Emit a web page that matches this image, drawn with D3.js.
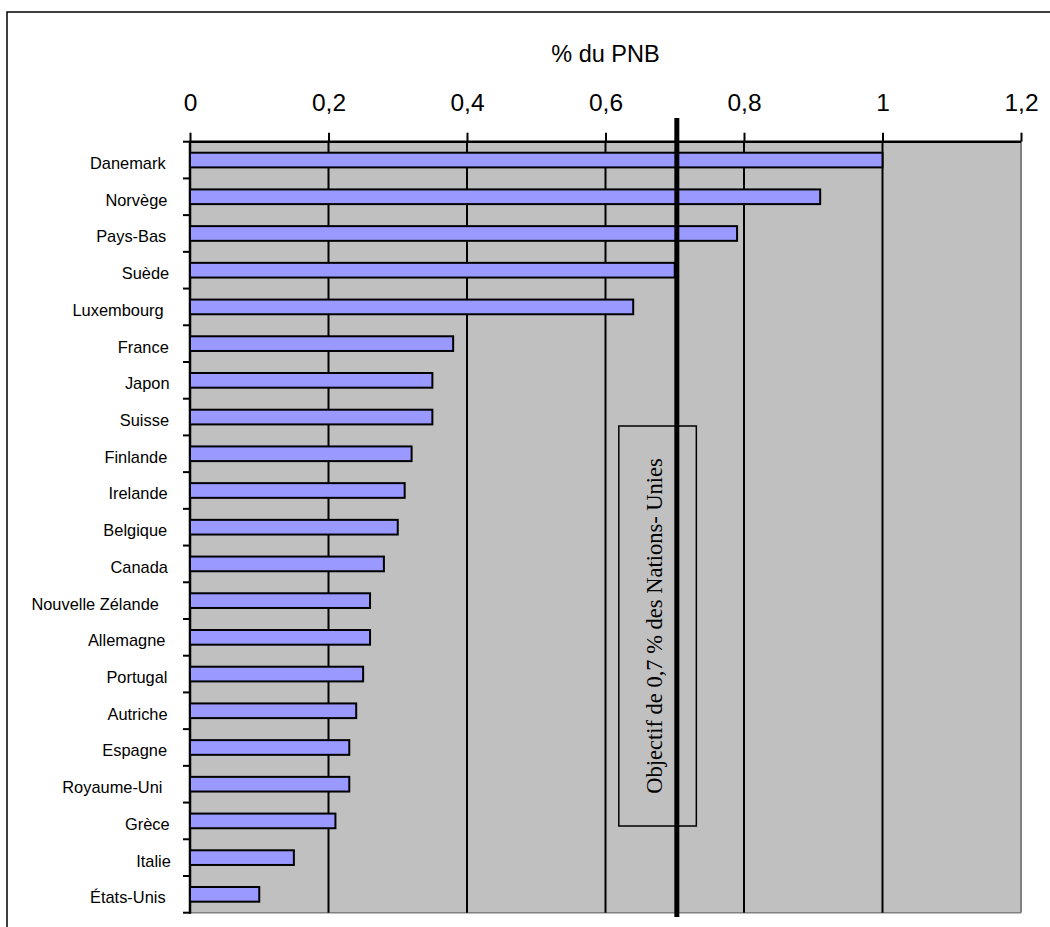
<!DOCTYPE html>
<html>
<head>
<meta charset="utf-8">
<script src="https://cdn.jsdelivr.net/npm/d3@7"></script>
<style>
  html, body { margin: 0; padding: 0; background: #ffffff; }
  svg { display: block; }
</style>
</head>
<body>
<svg id="chart" width="1050" height="927"></svg>
<script>
// ---- Data ----
const categories = ["Danemark", "Norvège", "Pays-Bas", "Suède", "Luxembourg", "France", "Japon", "Suisse",
  "Finlande", "Irelande", "Belgique", "Canada", "Nouvelle Zélande", "Allemagne", "Portugal", "Autriche",
  "Espagne", "Royaume-Uni", "Grèce", "Italie", "États-Unis"];
const values = [1.00, 0.91, 0.79, 0.70, 0.64, 0.38, 0.35, 0.35,
  0.32, 0.31, 0.30, 0.28, 0.26, 0.26, 0.25, 0.24,
  0.23, 0.23, 0.21, 0.15, 0.10];
const tickValues = [0, 0.2, 0.4, 0.6, 0.8, 1, 1.2];
const tickLabels = ["0", "0,2", "0,4", "0,6", "0,8", "1", "1,2"];
const axisTitle = "% du PNB";
const targetValue = 0.703;
const targetLabel = "Objectif de 0,7 % des Nations- Unies";

// ---- Layout ----
const svg = d3.select("#chart");
const pL = 190, pR = 1021, pT = 141.7, pB = 912.7;
const sans = "'Liberation Sans', Arial, sans-serif";
const serif = "'Liberation Serif', 'Times New Roman', serif";

const x = d3.scaleLinear().domain([0, 1.2]).range([pL, pR]);
const y = d3.scaleBand().domain(categories).range([pT, pB]).paddingInner(0.6).paddingOuter(0.3);

// outer chart border
svg.append("rect").attr("x", 7).attr("y", 12).attr("width", 1100).attr("height", 1000)
  .attr("fill", "none").attr("stroke", "#000").attr("stroke-width", 1.5);

// plot background
svg.append("rect").attr("x", pL).attr("y", pT).attr("width", pR - pL).attr("height", pB - pT)
  .attr("fill", "#c0c0c0");
// right & bottom plot border (grey)
svg.append("line").attr("x1", pR).attr("x2", pR).attr("y1", pT).attr("y2", pB)
  .attr("stroke", "#808080").attr("stroke-width", 2);
svg.append("line").attr("x1", pL).attr("x2", pR).attr("y1", pB).attr("y2", pB)
  .attr("stroke", "#808080").attr("stroke-width", 1.5);

// vertical gridlines
svg.append("g").selectAll("line").data(tickValues.filter(v => v > 0 && v < 1.2)).join("line")
  .attr("x1", d => x(d)).attr("x2", d => x(d)).attr("y1", pT).attr("y2", pB)
  .attr("stroke", "#000").attr("stroke-width", 2);

// top axis
const xAxis = d3.axisTop(x).tickValues(tickValues).tickFormat((d, i) => tickLabels[i]).tickSize(9).tickPadding(22);
const gx = svg.append("g").attr("transform", `translate(0,${pT})`).call(xAxis);
gx.select(".domain").attr("stroke", "#000").attr("stroke-width", 2.5).attr("d", `M${pL},0H${pR}`);
gx.selectAll(".tick line").attr("stroke", "#000").attr("stroke-width", 2);
gx.selectAll(".tick text").attr("font-family", sans).attr("font-size", 24.5).attr("fill", "#000");

// axis title
svg.append("text").attr("x", (pL + pR) / 2).attr("y", 61.5).attr("text-anchor", "middle")
  .attr("font-family", sans).attr("font-size", 23.5).attr("fill", "#000").text(axisTitle);

// left axis ticks at band boundaries
svg.append("g").selectAll("line").data(d3.range(categories.length + 1)).join("line")
  .attr("x1", pL - 7).attr("x2", pL)
  .attr("y1", i => pT + i * y.step()).attr("y2", i => pT + i * y.step())
  .attr("stroke", "#000").attr("stroke-width", 2);
svg.append("line").attr("x1", pL).attr("x2", pL).attr("y1", pT - 1).attr("y2", pB + 1)
  .attr("stroke", "#000").attr("stroke-width", 2.5);

// category labels (right edge drifts left slightly with label length, as in the original)
svg.append("g").selectAll("text").data(categories).join("text")
  .attr("y", d => y(d) + y.bandwidth() / 2 + 3)
  .attr("text-anchor", "end").attr("dominant-baseline", "central")
  .attr("font-family", sans).attr("font-size", 16.4).attr("fill", "#000").text(d => d)
  .attr("x", function () { return 175.3 - 0.128 * this.getComputedTextLength(); });

// bars
svg.append("g").selectAll("rect").data(values).join("rect")
  .attr("x", x(0)).attr("y", (d, i) => y(categories[i]))
  .attr("width", d => x(d) - x(0)).attr("height", y.bandwidth())
  .attr("fill", "#9999ff").attr("stroke", "#000").attr("stroke-width", 2);

// annotation box
const boxX0 = x(targetValue) - 58, boxX1 = x(targetValue) + 19.5;
const boxY0 = 426, boxY1 = 826;
svg.append("rect").attr("x", boxX0).attr("y", boxY0).attr("width", boxX1 - boxX0).attr("height", boxY1 - boxY0)
  .attr("fill", "none").attr("stroke", "#000").attr("stroke-width", 1.5);
svg.append("text").attr("transform", `translate(${x(targetValue) - 15},${(boxY0 + boxY1) / 2}) rotate(-90)`)
  .attr("text-anchor", "middle").attr("font-family", serif).attr("font-size", 22.5).attr("fill", "#000")
  .text(targetLabel);

// target line
svg.append("line").attr("x1", x(targetValue)).attr("x2", x(targetValue)).attr("y1", 118).attr("y2", 917)
  .attr("stroke", "#000").attr("stroke-width", 5);
</script>
</body>
</html>
